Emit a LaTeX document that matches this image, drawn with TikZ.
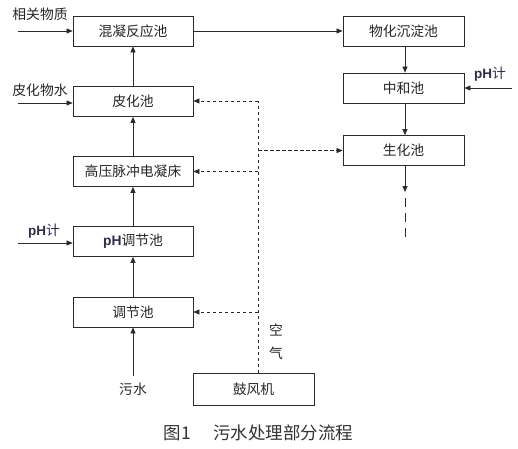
\documentclass[tikz,border=0pt]{standalone}
\usepackage{fontspec}
\setmainfont{Noto Sans CJK SC}
\newfontfamily\phf{Liberation Sans}
\usetikzlibrary{arrows.meta}
\definecolor{ln}{HTML}{2A2A2A}
\definecolor{phc}{HTML}{2E2E4A}
\begin{document}
\begin{tikzpicture}[x=1pt,y=-1pt,
  box/.style={draw=ln,line width=0.8pt,minimum width=120pt,minimum height=30pt,inner sep=0pt,font=\fontsize{13.8}{14}\selectfont,text=black!85},
  arr/.style={draw=ln,line width=0.75pt,-{Triangle[length=6pt,width=5pt]}},
  darr/.style={arr,dash pattern=on 3.5pt off 2.5pt},
  lbl/.style={font=\fontsize{13.8}{14}\selectfont,text=black!85,inner sep=0pt},
  ph/.style={font=\phf\bfseries\fontsize{13.5}{14}\selectfont,text=phc,inner sep=0pt}]
\useasboundingbox (0,0) rectangle (518,448);
% left column
\node[box] (hn) at (133,31) {混凝反应池};
\node[box] (pc) at (133,101.5) {皮化池};
\node[box] (gy) at (133,171.5) {高压脉冲电凝床};
\node[box] (pt) at (133,241.5) {{\phf\bfseries\color{phc}pH}调节池};
\node[box] (tj) at (133,312) {调节池};
\node[box,minimum width=121pt,minimum height=32pt] (gf) at (253.5,389) {鼓风机};
% right column
\node[box,minimum width=121pt] (wh) at (403.5,31) {物化沉淀池};
\node[box,minimum width=121pt] (zh) at (403.5,88) {中和池};
\node[box,minimum width=121pt] (sh) at (403.5,150.5) {生化池};
% labels
\node[lbl] (l1) at (40,14) {相关物质};
\node[lbl] (l2) at (40,90) {皮化物水};
\node[ph] (l3) at (44,231) {pH\normalfont\fontsize{13.8}{14}\selectfont 计};
\node[ph] (l4) at (490,74) {pH\normalfont\fontsize{13.8}{14}\selectfont 计};
\node[lbl] (ws) at (133,389) {污水};
\node[lbl] (k1) at (276,330) {空};
\node[lbl] (k2) at (276,353) {气};
\node[font=\fontsize{17.5}{18}\selectfont,text=black!80,inner sep=0pt] (cap) at (258.5,433) {图1\hspace{1.3em}污水处理部分流程};
% coordinates
\coordinate (i1) at (18,31);
\coordinate (i2) at (18,103);
\coordinate (i3) at (18,243);
\coordinate (i4) at (512,88);
\coordinate (wsb) at (133,376);
\coordinate (a0) at (258,373);
\coordinate (a1) at (258,101);
\coordinate (se) at (405,192);
\coordinate (d1) at (405,198);
\coordinate (d2) at (405,240);
% main flow
\draw[arr] (i1) -- (hn.west);
\draw[arr] (i2) -- (pc.west |- i2);
\draw[arr] (i3) -- (pt.west |- i3);
\draw[arr] (i4) -- (zh.east);
\draw[arr] (wsb) -- (tj.south);
\draw[arr] (tj) -- (pt);
\draw[arr] (pt) -- (gy);
\draw[arr] (gy) -- (pc);
\draw[arr] (pc) -- (hn);
\draw[arr] (hn) -- (wh);
\draw[arr] (wh.south -| se) -- (zh.north -| se);
\draw[arr] (zh.south -| se) -- (sh.north -| se);
\draw[arr] (sh.south -| se) -- (se);
\draw[draw=ln,line width=0.8pt,dash pattern=on 9pt off 6pt] (d1) -- (d2);
% air
\draw[draw=ln,line width=0.75pt,dash pattern=on 3.5pt off 2.5pt] (a0) -- (a1);
\draw[darr] (a1) -- (pc.east |- a1);
\draw[darr] (gy.east -| a0) -- (gy.east);
\draw[darr] (tj.east -| a0) -- (tj.east);
\draw[darr] (sh.west -| a0) -- (sh.west);
\end{tikzpicture}
\end{document}
